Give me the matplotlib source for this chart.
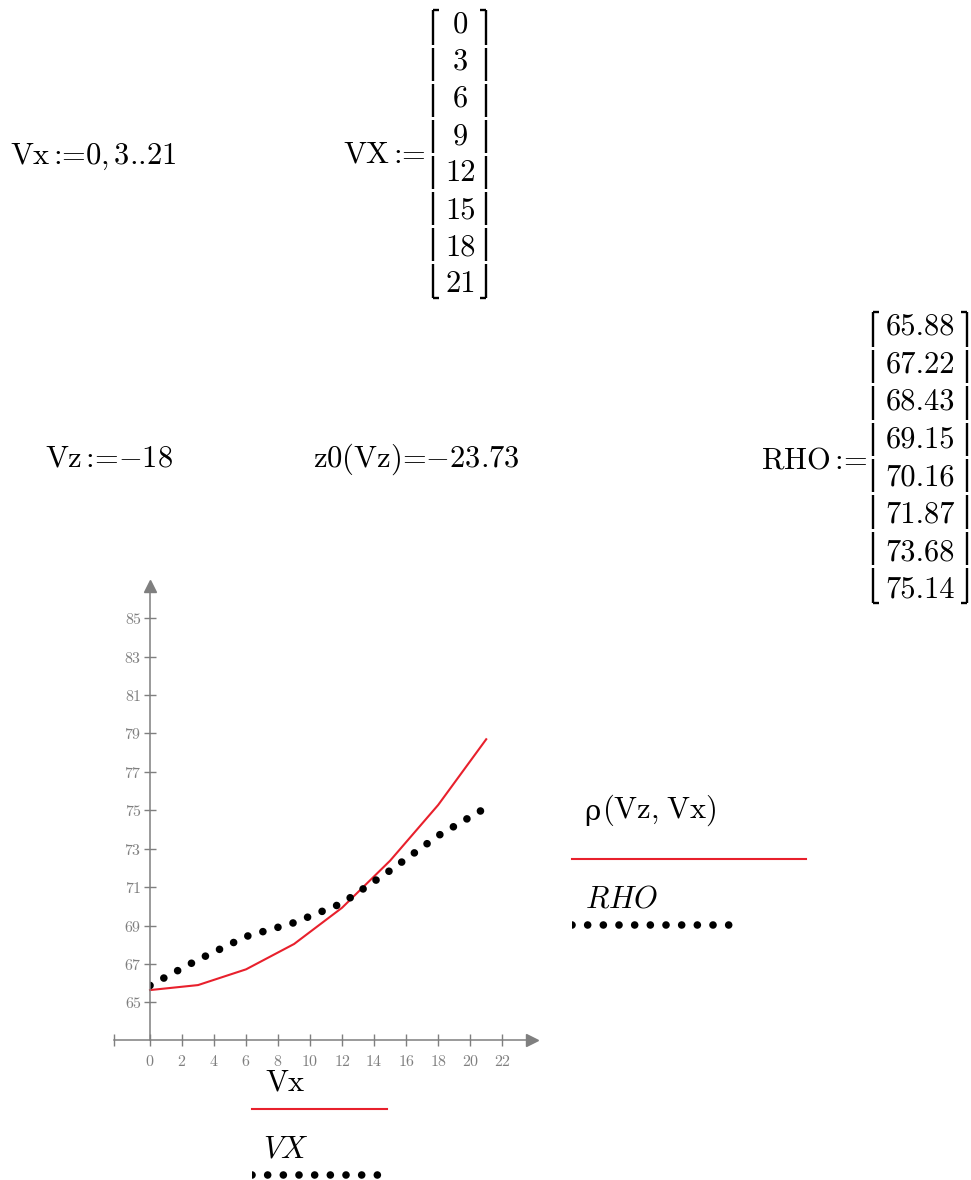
import numpy as np
import matplotlib.pyplot as plt
from matplotlib.lines import Line2D
from matplotlib.patches import Rectangle

plt.rcParams['mathtext.fontset'] = 'cm'

# === dados ===
vx_vals = [0, 3, 6, 9, 12, 15, 18, 21]
rho_vals = [65.88, 67.22, 68.43, 69.15, 70.16, 71.87, 73.68, 75.14]
rho_curve = [65.64, 65.90, 66.72, 68.04, 69.93, 72.38, 75.28, 78.70]
vx_ticks = list(range(0, 23, 2))
rho_ticks = list(range(65, 86, 2))

# === pagina ===
W, H = 971, 1180
fig = plt.figure(figsize=(W / 100, H / 100), dpi=100)
pontilhado = dict(color='black', lw=5.5, linestyle=(0, (0.001, 2.05)), dash_capstyle='round')


def fx(x):
    return x / W


def fy(y):
    return 1 - y / H


def txt(x, y, s, size=22, ha='left', color='black', family='cmr10'):
    fig.text(fx(x), fy(y), s, fontsize=size, ha=ha, va='center', color=color,
             fontfamily=family)


def seg(x0, y0, x1, y1, clip_x=None, **kw):
    ln = Line2D([fx(x0), fx(x1)], [fy(y0), fy(y1)], transform=fig.transFigure, **kw)
    fig.add_artist(ln)
    if clip_x is not None:
        r = Rectangle((fx(clip_x), 0), 1, 1, transform=fig.transFigure)
        ln.set_clip_path(r)


def colchete(xl, xr, top, bottom, n):
    # colchetes em pedacos, como no mathcad
    step = (bottom - top) / n
    for x, d in ((xl, 6), (xr, -6)):
        for i in range(n):
            a = top + i * step + (0 if i == 0 else 1.5)
            b = top + (i + 1) * step - (0 if i == n - 1 else 1.5)
            seg(x, a, x, b, color='black', lw=1.7, solid_capstyle='butt')
        seg(x, top, x + d, top, color='black', lw=1.7, solid_capstyle='butt')
        seg(x, bottom, x + d, bottom, color='black', lw=1.7, solid_capstyle='butt')


def coluna(xc, y0, dy, vals):
    for i, v in enumerate(vals):
        txt(xc, y0 + i * dy, str(v), ha='center')


# === definicoes ===
txt(10, 157, r'Vx$\,$:=0,$\,$3..21')
txt(426, 155, r'VX$\,$:=', ha='right')
coluna(460.5, 25, 37.1, vx_vals)
colchete(433, 486, 10, 298, 8)

txt(45, 459, r'Vz$\,$:=$-$18')
txt(313, 459, r'z0(Vz)=$-$23.73')
txt(867, 461, r'RHO$\,$:=', ha='right')
coluna(920, 327, 37.6, rho_vals)
colchete(873, 967, 312, 603, 8)

# === grafico ===
gray = '#7f7f7f'
red = '#e8202c'
ax = fig.add_axes([fx(114), fy(1040), (532 - 114) / W, (1040 - 586) / H])
ax.set_xlim(-2.25, 23.86)
ax.set_ylim(63.04, 86.68)
ax.patch.set_visible(False)
for s in ('top', 'right'):
    ax.spines[s].set_visible(False)
ax.spines['left'].set_position(('data', 0))
for s in ('left', 'bottom'):
    ax.spines[s].set_color(gray)
    ax.spines[s].set_linewidth(1.1)
ax.plot(0, 86.68, marker='^', ms=8, color=gray, clip_on=False)
ax.plot(23.86, 63.04, marker='>', ms=8, color=gray, clip_on=False)

ax.set_xticks(vx_ticks)
ax.set_xticklabels([r'$%d$' % t for t in vx_ticks])
ax.set_xticks([-2.25], minor=True)
ax.set_yticks(rho_ticks)
ax.set_yticklabels([r'$%d$' % t for t in rho_ticks])
ax.tick_params(which='both', direction='inout', length=8, width=1, color=gray,
               labelcolor=gray, labelsize=11.5)
ax.tick_params(axis='x', pad=6)
ax.tick_params(axis='y', pad=2)

ax.plot(vx_vals, rho_curve, color=red, lw=1.5)
pts, = ax.plot(vx_vals, rho_vals, **pontilhado)
pts.set_clip_path(Rectangle((0, 63.04), 30, 30, transform=ax.transData))

# === legendas ===
txt(584, 812, 'ρ', size=20, family='DejaVu Serif')
txt(602, 810, '(Vz,$\\;$Vx)')
seg(572, 859, 806, 859, color=red, lw=1.5)
txt(585, 900, r'$RHO$')
seg(572, 925, 736, 925, clip_x=572, **pontilhado)

txt(265, 1083, 'Vx')
seg(252, 1109, 387, 1109, color=red, lw=1.5)
txt(263, 1150, r'$VX$')
seg(252, 1175, 383, 1175, clip_x=252, **pontilhado)

plt.savefig('out.png', dpi=100)
